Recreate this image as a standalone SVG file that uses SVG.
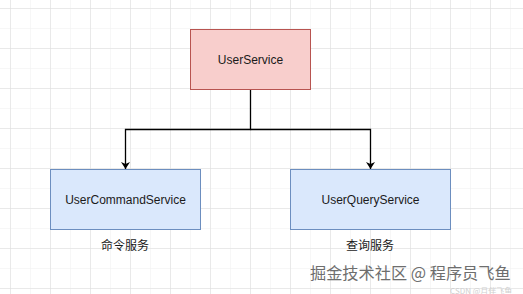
<svg xmlns="http://www.w3.org/2000/svg" width="523" height="294" viewBox="0 0 523 294">
<defs>
<pattern id="minor" width="20" height="20" patternUnits="userSpaceOnUse" x="10" y="8">
<path d="M0 0H20M0 0V20" fill="none" stroke="#efefef" stroke-width="1"/>
</pattern>
<pattern id="major" width="40" height="40" patternUnits="userSpaceOnUse" x="10" y="8">
<path d="M0 0H40M0 0V40" fill="none" stroke="#dcdcdc" stroke-width="1"/>
</pattern>
<marker id="arr" markerWidth="8" markerHeight="9" refX="7" refY="4.5" orient="auto" markerUnits="userSpaceOnUse">
<path d="M0 0L7 4.5L0 9L2 4.5Z" fill="#000"/>
</marker>
<style>
.lbl{font-family:"Liberation Sans",Arial,sans-serif;font-size:12px;fill:#1a1a1a;text-anchor:middle;dominant-baseline:central}
.cjk{font-family:"Noto Sans CJK SC","Liberation Sans",sans-serif;font-size:12px;fill:#1a1a1a;text-anchor:middle;dominant-baseline:central}
.red{fill:#f8cecc;stroke:#b85450;stroke-width:1}
.blue{fill:#dae8fc;stroke:#6c8ebf;stroke-width:1}
.edge{fill:none;stroke:#000;stroke-width:1.3}
</style>
</defs>
<rect width="523" height="294" fill="#fff"/>
<rect width="523" height="294" fill="url(#minor)"/>
<rect width="523" height="294" fill="url(#major)"/>
<g id="connectors">
<path class="edge" d="M250.5 89.5V129.5H125.5V169" marker-end="url(#arr)"/>
<path class="edge" d="M250.5 129.5H370.5V169" marker-end="url(#arr)"/>
</g>
<g id="userService">
<rect class="red" x="190.5" y="29.5" width="120" height="60"/>
<text class="lbl" x="250.5" y="59.5">UserService</text>
</g>
<g id="userCommandService">
<rect class="blue" x="50.5" y="169.5" width="150" height="60"/>
<text class="lbl" x="125.5" y="199.5">UserCommandService</text>
<text class="cjk" x="125" y="244">命令服务</text>
</g>
<g id="userQueryService">
<rect class="blue" x="290.5" y="169.5" width="160" height="60"/>
<text class="lbl" x="370.5" y="199.5">UserQueryService</text>
<text class="cjk" x="370" y="244">查询服务</text>
</g>
<g id="watermark">
<text x="310" y="279" font-family="'Noto Sans CJK SC',sans-serif" font-size="16.2" fill="#6e6e6e">掘金技术社区 @ 程序员飞鱼</text>
<text x="450" y="293.5" font-family="'Noto Sans CJK SC',sans-serif" font-size="8" fill="#d0d0d0">CSDN @月伴飞鱼</text>
</g>
</svg>
